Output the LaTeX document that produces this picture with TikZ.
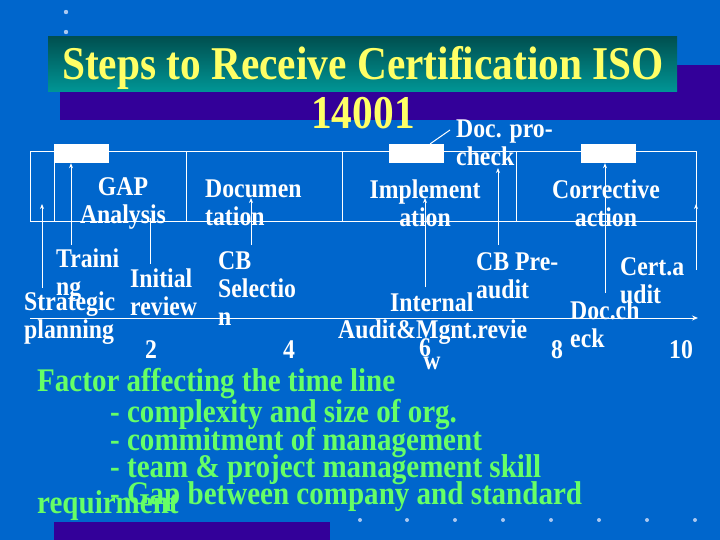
\documentclass[tikz,border=0pt]{standalone}
\usepackage{fontspec}
\setmainfont{Liberation Serif}[FakeStretch=0.88]
\usetikzlibrary{arrows.meta}
\definecolor{bg}{RGB}{0,102,204}
\definecolor{purp}{RGB}{51,0,153}
\definecolor{ttop}{RGB}{0,80,80}
\definecolor{tbot}{RGB}{0,150,150}
\definecolor{ylw}{RGB}{255,255,102}
\definecolor{grn}{RGB}{102,255,102}
\definecolor{dotc}{RGB}{170,200,240}
\begin{document}
\begin{tikzpicture}[x=1pt,y=-1pt,
  lbl/.style={text=white,font=\bfseries\fontsize{27}{28}\selectfont,inner sep=0pt,yshift=-2pt},
  lblc/.style={lbl,align=center},
  gtxt/.style={text=grn,font=\bfseries\fontsize{33}{34}\selectfont,inner sep=0pt,anchor=west,yshift=-3pt},
  ln/.style={white,line width=1pt},
  up/.style={white,line width=1pt,-{Stealth[length=5pt,width=4pt]}},
  wbox/.style={fill=white,draw=none},
  dot/.style={fill=dotc,draw=none}]
\fill[bg] (0,0) rectangle (720,540);
\useasboundingbox (0,0) rectangle (720,540);
\fill[dot] (66,12) circle (2.2); \fill[dot] (66,32) circle (2.2);
\fill[purp] (60,65) rectangle (720,120);
\shade[top color=ttop,bottom color=tbot] (48,37) rectangle (677,92);
\node[text=ylw,font=\bfseries\fontsize{47}{48}\selectfont,inner sep=0pt] (title) at (363,68) {Steps to Receive Certification ISO};
\node[text=ylw,font=\bfseries\fontsize{47}{48}\selectfont,inner sep=0pt] (num) at (363,113) {14001};
% timeline box
\draw[ln] (30,152) rectangle (696,222);
\draw[ln] (54,152) -- (54,222);
\draw[ln] (186,152) -- (186,222);
\draw[ln] (342,152) -- (342,222);
\draw[ln] (516,152) -- (516,222);
\node[wbox,minimum width=55pt,minimum height=19pt,inner sep=0pt] (r1) at (81.5,153.5) {};
\node[wbox,minimum width=55pt,minimum height=19pt,inner sep=0pt] (r2) at (416.5,153.5) {};
\node[wbox,minimum width=55pt,minimum height=19pt,inner sep=0pt] (r3) at (608.5,153.5) {};
% phase labels
\node[lblc] (gap) at (123,201) {GAP\\Analysis};
\node[lbl,align=left,anchor=west] (doc) at (205,201) {Documen\\tation};
\node[lblc] (impl) at (425,201) {Implement\\ation};
\node[lblc] (corr) at (606,201) {Corrective\\action};
\node[lbl,align=left,anchor=west] (dpc) at (456,141) {Doc. pro-\\check};
\coordinate (dpe) at (450,130);
\draw[ln] (r2.north east) ++(-14,0) coordinate (dps) -- (dpe);
% axis
\coordinate (ax0) at (30,318); \coordinate (ax1) at (698,318);
\draw[white,line width=1pt,-{Stealth[length=6pt,width=5pt]}] (ax0) -- (ax1);
% milestone labels
\node[lbl,align=left,anchor=west] (trn) at (56,273) {Traini\\ng};
\node[lbl,align=left,anchor=west] (ini) at (130,290) {Initial\\review};
\node[lbl,align=left,anchor=west] (str) at (24,316) {Strategic\\planning};
\node[lbl,align=left,anchor=west] (cbs) at (218,287) {CB\\Selectio\\n};
\node[lbl,align=left,anchor=west] (cbp) at (476,274) {CB Pre-\\audit};
\node[lbl,anchor=west] (int) at (390,300) {Internal};
\node[lbl,anchor=west] (aud) at (338,330) {Audit\&Mgnt.revie};
\node[lbl,align=left,anchor=west] (cert) at (620,279) {Cert.a\\udit};
\node[lbl,align=left,anchor=west] (dch) at (570,322) {Doc.ch\\eck};
\node[lbl] (n2) at (151,348) {2};
\node[lbl] (n4) at (289,348) {4};
\node[lbl] (n6) at (425,346) {6};
\node[lbl] (w) at (432,361) {w};
\node[lbl] (n8) at (557,348) {8};
\node[lbl] (n10) at (681,348) {10};
% arrows
\coordinate (a1s) at (42,288); \coordinate (a1e) at (42,204);
\draw[up] (a1s) -- (a1e);
\coordinate (a2s) at (71,245);
\draw[up] (a2s) -- (r1.south -| a2s);
\coordinate (a3s) at (150,264); \coordinate (a3e) at (150,218);
\draw[ln] (a3s) -- (a3e);
\coordinate (a4s) at (251,245); \coordinate (a4e) at (251,198);
\draw[up] (a4s) -- (a4e);
\coordinate (a5s) at (425,287); \coordinate (a5e) at (425,198);
\draw[up] (a5s) -- (a5e);
\coordinate (a6s) at (498,245); \coordinate (a6e) at (498,168);
\draw[up] (a6s) -- (a6e);
\coordinate (a7s) at (605,293);
\draw[up] (a7s) -- (r3.south -| a7s);
\coordinate (a8s) at (696,270); \coordinate (a8e) at (696,204);
\draw[up] (a8s) -- (a8e);
% factors
\node[gtxt] (f0) at (37,381) {Factor affecting the time line};
\node[gtxt] (f1) at (110,412) {- complexity and size of org.};
\node[gtxt] (f2) at (110,440) {- commitment of management};
\node[gtxt] (f3) at (110,467) {- team \& project management skill};
\node[gtxt] (f4) at (110,494) {- Gap between company and standard};
\node[gtxt] (f5) at (37,503) {requirment};
\fill[purp] (54,522) rectangle (330,540);
\foreach \x in {360,407,455,503,551,599,647,695} \fill[dot] (\x,520) circle (2);
\end{tikzpicture}
\end{document}
